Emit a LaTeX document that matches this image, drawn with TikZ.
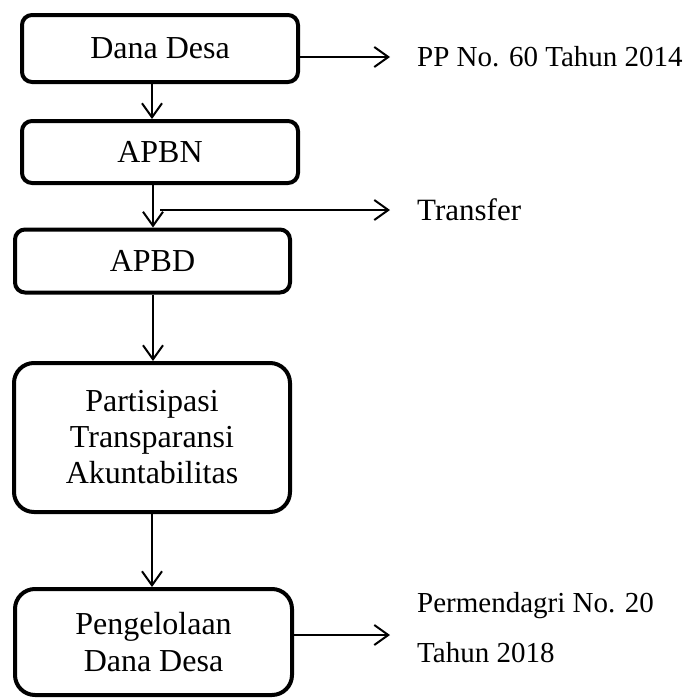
\documentclass[tikz,border=0pt]{standalone}
\usepackage{fontspec}
\setmainfont{Liberation Serif}
\usetikzlibrary{arrows.meta}
\tikzset{
  box/.style={draw, line width=4pt, rounded corners=10pt, inner sep=0pt, align=center, font=\fontsize{32}{37}\selectfont},
  bigbox/.style={box, rounded corners=20pt},
  conn/.style={line width=2pt, -{Straight Barb[length=14pt,width=20pt,line width=2pt]}},
  side/.style={anchor=west, inner sep=0pt, align=left, font=\fontsize{29}{50}\selectfont}
}
\begin{document}
\begin{tikzpicture}[x=1pt,y=-1pt]
\useasboundingbox (0,0) rectangle (690,699);
\node[box, minimum width=276pt, minimum height=67pt] (dd) at (160,48.5) {Dana Desa};
\node[box, minimum width=276pt, minimum height=62pt] (apbn) at (160,152) {APBN};
\node[box, minimum width=275pt, minimum height=63pt] (apbd) at (152.5,261) {APBD};
\node[bigbox, minimum width=276pt, minimum height=149pt] (pta) at (152,437.5) {Partisipasi\\[-1pt]Transparansi\\[-1pt]Akuntabilitas};
\node[bigbox, minimum width=277pt, minimum height=106pt] (pdd) at (153.5,642) {Pengelolaan\\Dana Desa};

\coordinate (t1) at (390,57);
\coordinate (t2) at (390,210);
\coordinate (t3) at (390,635);
\coordinate (ts) at (160,210);

\node[side] (pp) at (417,57) {PP No. 60 Tahun 2014};
\node[side, font=\fontsize{31}{36}\selectfont] (tr) at (417,210) {Transfer};
\node[side] (perm) at (417,628) {Permendagri No. 20\\Tahun 2018};

\draw[conn] (dd.south -| 152,0) -- (apbn.north -| 152,0);
\draw[conn] (apbn.south -| 153,0) -- (apbd.north -| 153,0);
\draw[conn] (apbd.south -| 153,0) -- (pta.north -| 153,0);
\draw[conn] (pta.south -| 152,0) -- (pdd.north -| 152,0);
\draw[conn] (dd.east |- t1) -- (t1);
\draw[conn] (ts) -- (t2);
\draw[conn] (pdd.east |- t3) -- (t3);
\end{tikzpicture}
\end{document}
